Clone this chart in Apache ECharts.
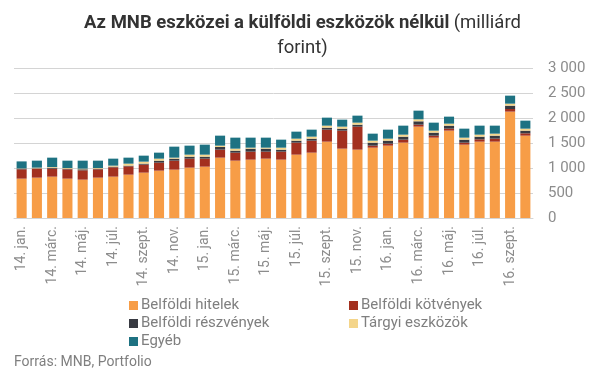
<!DOCTYPE html>
<html><head><meta charset="utf-8">
<script src="https://cdn.jsdelivr.net/npm/echarts@6/dist/echarts.min.js"></script>
<style>html,body{margin:0;padding:0;background:#fff}#c{width:605px;height:378px}</style>
</head><body><div id="c"></div>
<script>
const categories = ["14. jan.","14. febr.","14. márc.","14. ápr.","14. máj.","14. jún.","14. júl.","14. aug.","14. szept.","14. okt.","14. nov.","14. dec.",
"15. jan.","15. febr.","15. márc.","15. ápr.","15. máj.","15. jún.","15. júl.","15. aug.","15. szept.","15. okt.","15. nov.","15. dec.",
"16. jan.","16. febr.","16. márc.","16. ápr.","16. máj.","16. jún.","16. júl.","16. aug.","16. szept.","16. okt."];
const hitelek = [787,807,827,787,767,807,827,867,907,947,967,1007,1027,1207,1147,1167,1187,1167,1267,1307,1527,1387,1367,1407,1447,1507,1827,1607,1747,1467,1527,1527,2127,1647];
const kotvenyek = [187,180,160,187,187,167,187,167,160,160,180,180,160,160,160,160,140,160,240,240,240,360,460,40,40,60,40,40,40,40,47,60,53,47];
const reszvenyek = [13,7,20,13,20,13,13,13,20,40,40,40,40,53,40,60,60,40,40,40,40,40,40,60,60,60,67,60,60,60,53,60,67,53];
const targyi = [5,13,13,13,13,13,20,40,40,40,20,40,40,27,40,20,20,40,40,40,40,40,40,40,40,40,40,40,40,40,40,40,40,40];
const egyeb = [140,140,187,147,160,147,140,120,120,120,220,180,200,200,220,200,200,160,140,140,160,140,140,140,180,180,173,160,140,180,180,160,160,160];
const yTicks = [0,500,1000,1500,2000,2500,3000];

const names = ["Belföldi hitelek","Belföldi kötvények","Belföldi részvények","Tárgyi eszközök","Egyéb"];
const colors = ["#F79D47","#A3301F","#383A42","#F4D58A","#1E7282"];
const datas = [hitelek,kotvenyek,reszvenyek,targyi,egyeb];

const chart = echarts.init(document.getElementById('c'));
const legendCommon = {orient:'vertical', icon:'rect', itemWidth:9, itemHeight:9, itemGap:1,
  textStyle:{color:'#7f7f7f', fontSize:15, fontFamily:'Roboto', padding:[0,0,0,-2], lineHeight:17}};
chart.setOption({
  animation:false,
  textStyle:{fontFamily:'Roboto'},
  title:{
    left:'center', top:6,
    text:'{b|Az MNB eszközei a külföldi eszközök nélkül} {n|(milliárd}\n{n|forint)}',
    textStyle:{rich:{
      b:{fontSize:18.5, fontWeight:'bold', color:'#333', fontFamily:'Roboto', lineHeight:25},
      n:{fontSize:18.5, fontWeight:'normal', color:'#333', fontFamily:'Roboto', lineHeight:25}
    }}
  },
  legend:[
    Object.assign({left:124, top:292, data:[names[0],names[2],names[4]]}, legendCommon),
    Object.assign({left:344, top:292, data:[names[1],names[3]]}, legendCommon)
  ],
  graphic:[{type:'text', left:14, top:355, style:{text:'Forrás: MNB, Portfolio', fill:'#7f7f7f', fontSize:14, fontFamily:'Roboto'}}],
  grid:{left:14, right:72, top:68, bottom:160},
  xAxis:{type:'category', data:categories,
    axisLine:{lineStyle:{color:'#d4d4d4', width:1}}, axisTick:{show:false},
    axisLabel:{interval:1, rotate:90, color:'#8c8c8c', fontSize:14, fontFamily:'Roboto', margin:8}},
  yAxis:{type:'value', position:'right', min:yTicks[0], max:yTicks[yTicks.length-1], interval:500,
    axisLine:{show:false}, axisTick:{show:false},
    splitLine:{lineStyle:{color:'#d4d4d4', width:1}},
    axisLabel:{color:'#8c8c8c', fontSize:15, fontFamily:'Roboto', margin:15,
      formatter:v=>String(v).replace(/\B(?=(\d{3})+(?!\d))/g,' ')}},
  series: names.map((n,i)=>({name:n, type:'bar', stack:'a', data:datas[i], barCategoryGap:'34%',
    itemStyle:{color:colors[i]}}))
});
</script></body></html>
